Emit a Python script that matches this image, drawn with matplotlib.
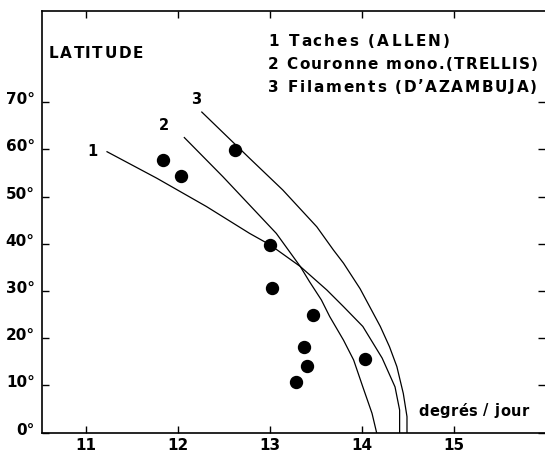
import matplotlib
matplotlib.use("Agg")
import matplotlib.pyplot as plt
import matplotlib.transforms as mtransforms

# Observed points (rotation rate deg/day, latitude deg)
obs_x = [11.84, 12.03, 12.62, 13.00, 13.02, 13.47, 13.37, 13.40, 13.28, 14.03]
obs_y = [57.7, 54.4, 59.9, 39.7, 30.6, 24.9, 18.2, 14.2, 10.8, 15.6]

# Curve 1: Taches (ALLEN)
c1_x = [11.23, 11.77, 12.31, 12.78, 13.00, 13.33, 13.62, 13.80, 14.01, 14.22, 14.36, 14.41, 14.41]
c1_y = [59.5, 53.9, 47.9, 42.2, 39.8, 35.2, 30.2, 26.7, 22.5, 15.8, 9.7, 4.8, 0.0]

# Curve 2: Couronne mono. (TRELLIS)
c2_x = [12.07, 12.49, 12.78, 13.07, 13.33, 13.43, 13.56, 13.65, 13.80, 13.91, 14.01, 14.11, 14.16]
c2_y = [62.5, 54.2, 48.2, 42.2, 35.2, 32.0, 28.1, 24.6, 19.6, 15.4, 9.7, 4.1, 0.0]

# Curve 3: Filaments (D'AZAMBUJA)
c3_x = [12.26, 12.78, 13.14, 13.51, 13.69, 13.80, 13.98, 14.20, 14.30, 14.38, 14.45, 14.49, 14.49]
c3_y = [67.9, 58.1, 51.4, 43.6, 38.7, 35.9, 30.5, 22.5, 18.2, 14.0, 8.3, 3.4, 0.0]

x_ticks = [11, 12, 13, 14, 15]
x_labels = ["11", "12", "13", "14", "15"]
y_ticks = [0, 10, 20, 30, 40, 50, 60, 70]
y_labels = ["0°", "10°", "20°", "30°", "40°", "50°", "60°", "70°"]

legend_lines = ["1 Taches (ALLEN)", "2 Couronne mono.(TRELLIS)", "3 Filaments (D’AZAMBUJA)"]
curve_tags = ["1", "2", "3"]
curve_tag_pos = [(11.07, 59.5), (11.85, 65.0), (12.20, 70.5)]

plt.rcParams['font.family'] = ['DejaVu Sans']
plt.rcParams['font.weight'] = 'bold'

fig = plt.figure(figsize=(5.45, 4.53), dpi=100)
W, H = 545, 453
ax = fig.add_axes([41.7 / W, (H - 432.7) / H, 1 - 41.7 / W, (432.7 - 11) / H])
ax.set_xlim(10.52, 15.99)
ax.set_ylim(0, 89.3)

for c_x, c_y in [(c1_x, c1_y), (c2_x, c2_y), (c3_x, c3_y)]:
    ax.plot(c_x, c_y, color='black', lw=0.9, solid_joinstyle='round')

ax.plot(obs_x, obs_y, 'o', color='black', markersize=8.6, clip_on=False)

for sp in ['left', 'bottom', 'top']:
    ax.spines[sp].set_linewidth(1.2)
ax.spines['right'].set_visible(False)

ax.set_xticks(x_ticks)
ax.set_xticklabels(x_labels, fontsize=11, fontweight='bold')
ax.set_yticks(y_ticks)
ax.set_yticklabels(y_labels, fontsize=11, fontweight='bold')
ax.tick_params(axis='x', direction='in', length=5, width=1.0, pad=4, top=True)
ax.tick_params(axis='y', direction='in', length=5, width=1.0, pad=5, right=True)

offset = mtransforms.ScaledTranslation(0, 4 / 100, fig.dpi_scale_trans)
for lbl in ax.get_yticklabels():
    lbl.set_transform(lbl.get_transform() + offset)

renderer = fig.canvas.get_renderer()


def text_width(s, size):
    t = fig.text(0, 0, s, fontsize=size, fontweight='bold')
    w = t.get_window_extent(renderer).width
    t.remove()
    return w


def spaced_text(x_px, y_px, s, size, target_right):
    """Draw string s with extra letter spacing so that it runs from x_px to target_right."""
    ref = text_width("X", size)
    offsets = [text_width(s[:i] + "X", size) - ref for i in range(len(s))]
    natural = text_width(s, size)
    spacing = (target_right - x_px - natural) / max(len(s) - 1, 1)
    for i, ch in enumerate(s):
        if ch == " ":
            continue
        fig.text((x_px + offsets[i] + i * spacing) / W, 1 - y_px / H, ch,
                 fontsize=size, fontweight='bold', va='center', ha='left')


spaced_text(49, 53, "LATITUDE", 11, 143)
spaced_text(418, 411, "degrés / jour", 10.5, 529)

spaced_text(268, 42, legend_lines[0], 11, 450)
spaced_text(268, 64.5, legend_lines[1], 11, 538)
spaced_text(268, 87, legend_lines[2], 11, 537)

for tag, (tx, ty) in zip(curve_tags, curve_tag_pos):
    ax.text(tx, ty, tag, fontsize=10.5, fontweight='bold', ha='center', va='center')

fig.savefig("out.png", dpi=100)
